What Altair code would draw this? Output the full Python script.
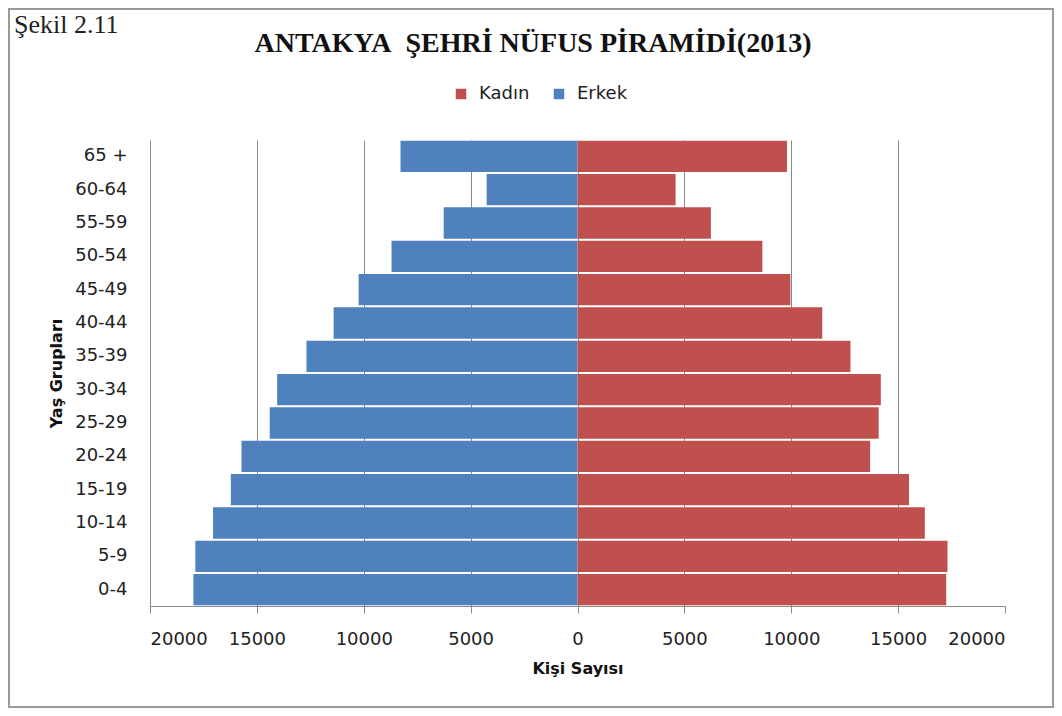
import altair as alt
import pandas as pd

# Age groups, bottom (youngest) to top (oldest)
ages = ["0-4", "5-9", "10-14", "15-19", "20-24", "25-29", "30-34",
        "35-39", "40-44", "45-49", "50-54", "55-59", "60-64", "65 +"]
erkek = [17970, 17880, 17050, 16220, 15720, 14400, 14050,
         12680, 11410, 10240, 8700, 6260, 4250, 8280]
kadin = [17250, 17310, 16250, 15510, 13690, 14090, 14190,
         12770, 11450, 9960, 8650, 6240, 4590, 9800]
sexes = ["Kadın", "Erkek"]
colors = ["#C0504D", "#4F81BD"]
tick_values = [-20000, -15000, -10000, -5000, 0, 5000, 10000, 15000, 20000]
title_text = "ANTAKYA\u00a0 ŞEHRİ NÜFUS PİRAMİDİ(2013)"
figure_label = "Şekil 2.11"

rows = []
for a, m, w in zip(ages, erkek, kadin):
    rows.append({"age": a, "sex": "Erkek", "val": -m})
    rows.append({"age": a, "sex": "Kadın", "val": w})
df = pd.DataFrame(rows)

FONT = "DejaVu Sans"

bars = alt.Chart(df).mark_bar().encode(
    x=alt.X("val:Q",
            scale=alt.Scale(domain=[-20000, 20000], nice=False),
            axis=alt.Axis(values=tick_values,
                          labelExpr="format(abs(datum.value), 'd')",
                          title="Kişi Sayısı",
                          grid=True,
                          gridColor="#8a8a8a",
                          gridOpacity={"condition": {"test": "abs(datum.value) >= 20000", "value": 0}, "value": 1},
                          domainColor="#8a8a8a",
                          tickColor="#8a8a8a",
                          tickSize=7,
                          labelPadding=17,
                          titlePadding=12)),
    y=alt.Y("age:N", sort=list(reversed(ages)),
            scale=alt.Scale(paddingInner=0.06, paddingOuter=0.02),
            axis=alt.Axis(title="Yaş Grupları",
                          ticks=False,
                          grid=False,
                          domainColor="#8a8a8a",
                          labelPadding=23,
                          titlePadding=10)),
    color=alt.Color("sex:N",
                    scale=alt.Scale(domain=sexes, range=colors),
                    legend=alt.Legend(title=None, orient="none",
                                      direction="horizontal",
                                      legendX=302, legendY=-55,
                                      symbolType="square", symbolSize=110,
                                      symbolStrokeWidth=0,
                                      labelFont=FONT, labelFontSize=18,
                                      labelColor="#222222",
                                      labelOffset=9, columnPadding=20)),
)

frame = alt.Chart(pd.DataFrame({"a": [0]})).mark_rect(
    filled=False, stroke="#9a9a9a", strokeWidth=2
).encode(x=alt.value(-141), x2=alt.value(903), y=alt.value(-131), y2=alt.value(567))

sekil = alt.Chart(pd.DataFrame({"t": [figure_label]})).mark_text(
    font="Liberation Serif", fontSize=26, align="left", baseline="alphabetic", color="#222222"
).encode(text="t:N", x=alt.value(-136), y=alt.value(-107))

title = alt.Chart(pd.DataFrame({"t": [title_text]})).mark_text(
    font="Liberation Serif", fontSize=28, fontWeight="bold", align="center",
    baseline="alphabetic", color="#111111"
).encode(text="t:N", x=alt.value(383), y=alt.value(-88))

chart = alt.layer(bars, frame, sekil, title).properties(
    width=855,
    height=466,
    autosize=alt.AutoSizeParams(type="none"),
    padding={"left": 142, "top": 132, "right": 49, "bottom": 102},
).configure_view(stroke=None).configure_axis(
    labelFont=FONT, labelFontSize=18, labelColor="#222222",
    titleFont=FONT, titleFontSize=16, titleFontWeight="bold", titleColor="#111111",
)

chart.save("out.html", embed_options={"renderer": "svg", "actions": False})
